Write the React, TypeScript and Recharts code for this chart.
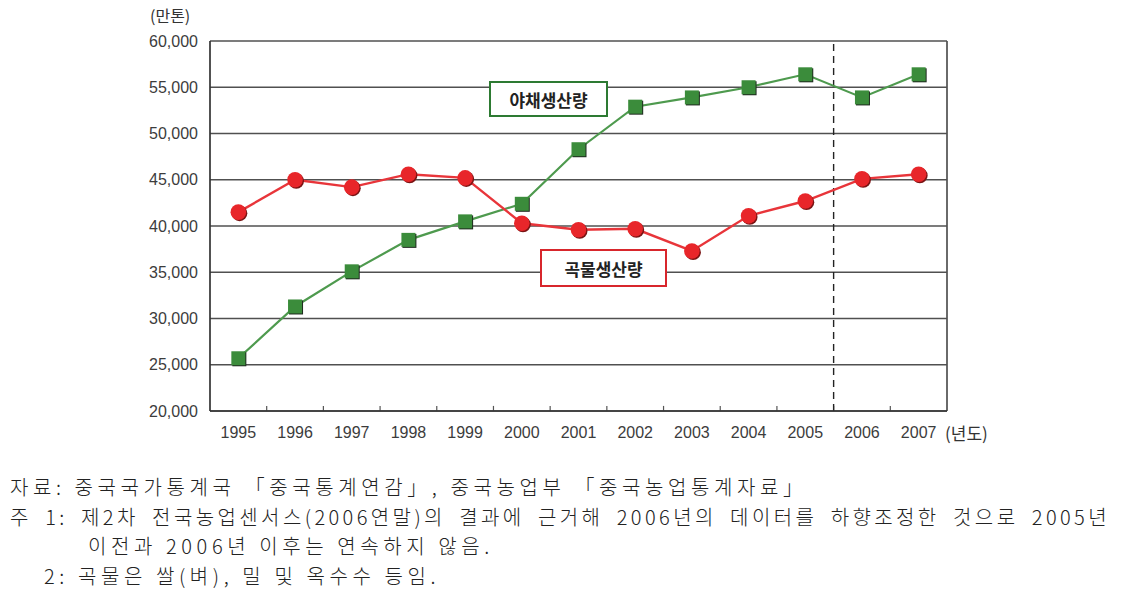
import { LineChart, Line, XAxis, YAxis, CartesianGrid, ReferenceLine } from 'recharts';

const years = [1995, 1996, 1997, 1998, 1999, 2000, 2001, 2002, 2003, 2004, 2005, 2006, 2007];
const vegetable = [25700, 31300, 35100, 38500, 40500, 42400, 48300, 52900, 53900, 55000, 56400, 53900, 56400];
const grain = [41500, 45000, 44200, 45600, 45200, 40300, 39600, 39700, 37300, 41100, 42700, 45100, 45600];
const yTicks = [20000, 25000, 30000, 35000, 40000, 45000, 50000, 55000, 60000];
const boundaries = years.slice(0, -1).map((y) => y + 0.5);

const data = years.map((year, i) => ({ year, vegetable: vegetable[i], grain: grain[i] }));

const notes = [
    '자료: 중국국가통계국 「중국통계연감」, 중국농업부 「중국농업통계자료」',
    '주 1: 제2차 전국농업센서스(2006연말)의 결과에 근거해 2006년의 데이터를 하향조정한 것으로 2005년',
    '이전과 2006년 이후는 연속하지 않음.',
    '2: 곡물은 쌀(벼), 밀 및 옥수수 등임.',
];

const SquareDot = (props: any) => {
    const { cx, cy } = props;
    if (cx == null || cy == null) return null;
    return (
        <g>
            <rect x={cx - 6} y={cy - 6} width={14} height={14} fill="#1f2a1f" />
            <rect x={cx - 7} y={cy - 7} width={14} height={14} fill="#3b8c3b" />
        </g>
    );
};

const CircleDot = (props: any) => {
    const { cx, cy } = props;
    if (cx == null || cy == null) return null;
    return (
        <g>
            <circle cx={cx + 1.2} cy={cy + 1.2} r={7.8} fill="#7a1414" />
            <circle cx={cx} cy={cy} r={7.8} fill="#e8262a" />
        </g>
    );
};

const sans = '"Liberation Sans", Arial, sans-serif';
const kr = '"Noto Sans CJK KR", sans-serif';

export default function App() {
    return (
        <div style={{ position: 'absolute', left: 0, top: 0, width: 1122, height: 594, background: '#fff', overflow: 'hidden' }}>
            <LineChart width={1122} height={450} data={data} margin={{ top: 41, right: 175, left: 0, bottom: 8 }}>
                <CartesianGrid vertical={false} stroke="#505050" strokeWidth={1.7} />
                <XAxis
                    dataKey="year"
                    type="number"
                    domain={[1994.5, 2007.5]}
                    ticks={years}
                    tickLine={false}
                    axisLine={{ stroke: '#333', strokeWidth: 1.7 }}
                    tick={{ fill: '#3c3c3c', fontSize: 16, fontFamily: sans }}
                    tickMargin={10}
                    height={31}
                    interval={0}
                />
                <YAxis
                    domain={[20000, 60000]}
                    ticks={yTicks}
                    width={210}
                    tickLine={false}
                    tickSize={0}
                    tickMargin={12}
                    axisLine={{ stroke: '#333', strokeWidth: 1.7 }}
                    tick={{ fill: '#3c3c3c', fontSize: 16, fontFamily: sans }}
                    tickFormatter={(v: number) => v.toLocaleString('en-US')}
                />
                <ReferenceLine x={2007.5} stroke="#505050" strokeWidth={1.7} />
                {boundaries.map((b) => (
                    <ReferenceLine
                        key={b}
                        segment={[
                            { x: b, y: 20000 },
                            { x: b, y: 20550 },
                        ]}
                        stroke="#555"
                        strokeWidth={1.2}
                    />
                ))}
                <ReferenceLine x={2005.5} stroke="#222" strokeWidth={1.4} strokeDasharray="7 5" />
                <Line
                    dataKey="vegetable"
                    stroke="#4e9a4e"
                    strokeWidth={2.2}
                    dot={<SquareDot />}
                    activeDot={false}
                    isAnimationActive={false}
                />
                <Line
                    dataKey="grain"
                    stroke="#e8353a"
                    strokeWidth={2.4}
                    dot={<CircleDot />}
                    activeDot={false}
                    isAnimationActive={false}
                />
            </LineChart>

            <div style={{ position: 'absolute', left: 150, top: 3, fontFamily: kr, fontSize: 16, color: '#333' }}>(만톤)</div>
            <div style={{ position: 'absolute', left: 945, top: 420, fontFamily: kr, fontSize: 17, color: '#333' }}>(년도)</div>

            <div
                style={{
                    position: 'absolute', left: 489, top: 81, width: 119, height: 36, boxSizing: 'border-box',
                    border: '2px solid #2d7a32', background: '#fff', display: 'flex', alignItems: 'center',
                    justifyContent: 'center', fontFamily: kr, fontSize: 17, fontWeight: 700, color: '#222',
                }}
            >
                야채생산량
            </div>
            <div
                style={{
                    position: 'absolute', left: 540, top: 249, width: 127, height: 38, boxSizing: 'border-box',
                    border: '2px solid #d8262c', background: '#fff', display: 'flex', alignItems: 'center',
                    justifyContent: 'center', fontFamily: kr, fontSize: 17, fontWeight: 700, color: '#222',
                }}
            >
                곡물생산량
            </div>

            <div style={{ position: 'absolute', left: 10, top: 472, fontFamily: kr, fontSize: 20, fontWeight: 300, color: '#222', lineHeight: '29.5px', letterSpacing: 4.6 }}>
                <div style={{ whiteSpace: 'nowrap' }}>{notes[0]}</div>
                <div style={{ width: 1100, whiteSpace: 'nowrap', textAlign: 'justify', textAlignLast: 'justify' as any, letterSpacing: 3.4 }}>{notes[1]}</div>
                <div style={{ whiteSpace: 'nowrap', paddingLeft: 78 }}>{notes[2]}</div>
                <div style={{ whiteSpace: 'nowrap', paddingLeft: 34 }}>{notes[3]}</div>
            </div>
        </div>
    );
}
